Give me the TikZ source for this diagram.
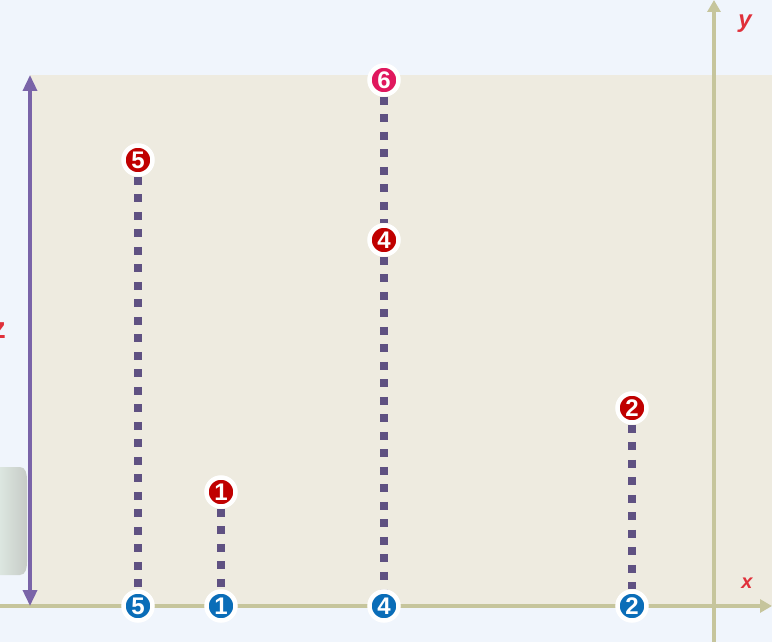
\documentclass[tikz,border=0pt]{standalone}
\usepackage{fontspec}
\setmainfont{Liberation Sans}
\usetikzlibrary{arrows.meta,shadows}
\pgfdeclarelayer{bg}
\pgfdeclarelayer{lines}
\pgfsetlayers{bg,lines,main}
\definecolor{skyback}{HTML}{F0F5FC}
\definecolor{beige}{HTML}{EEEBE0}
\definecolor{olive}{HTML}{C6C59C}
\definecolor{violet}{HTML}{7A64A8}
\definecolor{dotcol}{HTML}{5F5182}
\definecolor{redm}{HTML}{C00000}
\definecolor{bluem}{HTML}{0A6DB8}
\definecolor{pinkm}{HTML}{E0185E}
\definecolor{lblred}{HTML}{E0303A}
\definecolor{shadeL}{HTML}{DCE6E0}
\definecolor{shadeR}{HTML}{C6CBC6}
\tikzset{
  marker/.style={circle,draw=white,line width=4.5pt,minimum size=29pt,inner sep=0pt,
    text=white,font=\fontsize{24}{24}\selectfont\bfseries,
    drop shadow={shadow xshift=0.8pt,shadow yshift=-1.2pt,opacity=0.35}},
  topm/.style={marker,fill=redm},
  botm/.style={marker,fill=bluem},
  pinkmk/.style={marker,fill=pinkm},
  dotline/.style={dotcol,line width=8pt,dash pattern=on 8pt off 9.5pt},
  axisline/.style={olive,line width=4.5pt},
  lbl/.style={text=lblred,font=\fontsize{24}{24}\selectfont\bfseries\itshape}
}
\begin{document}
\begin{tikzpicture}[x=1pt,y=-1pt]
\useasboundingbox (0,0) rectangle (772,642);
\clip (0,0) rectangle (772,642);
\begin{pgfonlayer}{bg}
\fill[skyback] (0,0) rectangle (772,642);
\fill[beige] (30,75) rectangle (772,606);
\shade[left color=shadeL,right color=shadeR] (0,467) -- (20,467) to[out=0,in=90] (27,480) -- (27,562) to[out=-90,in=0] (20,575) -- (0,575) -- cycle;
\end{pgfonlayer}
% axes
\coordinate (xs) at (0,606);
\coordinate (xe) at (772,606);
\coordinate (ys) at (714,642);
\coordinate (ye) at (714,0);
\draw[axisline,-{Triangle[width=13pt,length=12pt]}] (xs) -- (xe);
\draw[axisline,-{Triangle[width=13pt,length=12pt]}] (ys) -- (ye);
% height arrow
\coordinate (ht) at (30,75);
\coordinate (hb) at (30,606);
\draw[violet,line width=3.5pt,{Triangle[width=14pt,length=16pt]}-{Triangle[width=14pt,length=16pt]}] (ht) -- (hb);
% labels
\node[lbl] (ylab) at (745,24) {y};
\node[lbl,font=\fontsize{20}{20}\selectfont\bfseries\itshape] (xlab) at (747,583) {x};
\node[lbl,anchor=east,font=\fontsize{30}{30}\selectfont\bfseries,inner sep=0pt] (zlab) at (6,331) {z};
% markers
\node[topm] (t5) at (138,160) {5};
\node[botm] (b5) at (138,606) {5};
\node[topm] (t1) at (221,492) {1};
\node[botm] (b1) at (221,606) {1};
\node[pinkmk] (t6) at (384,80) {6};
\node[topm] (t4) at (384,240) {4};
\node[botm] (b4) at (384,606) {4};
\node[topm] (t2) at (632,408) {2};
\node[botm] (b2) at (632,606) {2};
\begin{pgfonlayer}{lines}
\draw[dotline] (t5.south) -- (b5.north);
\draw[dotline] (t1.south) -- (b1.north);
\draw[dotline] (t6.south) -- (t4.north);
\draw[dotline] (t4.south) -- (b4.north);
\draw[dotline] (t2.south) -- (b2.north);
\end{pgfonlayer}
\end{tikzpicture}
\end{document}
